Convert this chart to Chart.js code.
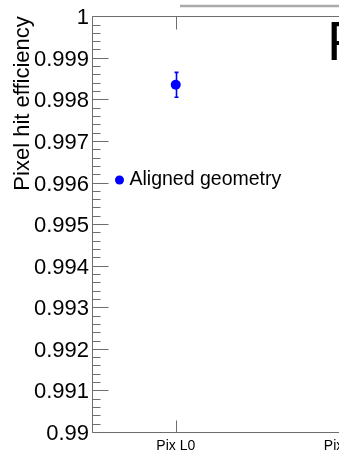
<!DOCTYPE html>
<html>
<head>
<meta charset="utf-8">
<script src="https://cdn.jsdelivr.net/npm/chart.js@4/dist/chart.umd.min.js"></script>
<style>
  html, body { margin: 0; padding: 0; overflow: hidden; background: #fff; }
  #wrap { width: 432px; height: 452px; position: relative; }
</style>
</head>
<body>
<div id="wrap"><canvas id="c"></canvas></div>
<script>
// Pixel hit efficiency per layer
const layers = ['Pix L0', 'Pix L1'];
const efficiency = [0.99835, null];
const efficiencyErr = [0.0003, null];
const seriesLabel = 'Aligned geometry';
const yMin = 0.99;
const yMax = 1.0;
const yMinorStep = 0.0002;   // 5 minor divisions per 0.001
const headerText = 'P';

const FONT = '"Liberation Sans", Arial, Helvetica, sans-serif';
const BLUE = '#0000ff';
const AXIS = '#6e6e6e';

function isMajor(v) {
  return Math.round((v - yMin) / yMinorStep) % 5 === 0;
}

// Frame and inward-pointing ticks (major + minor), plus error bars
const framePlugin = {
  id: 'frame',
  beforeDatasetsDraw(chart) {
    const { ctx, chartArea: a, scales: { x, y } } = chart;
    ctx.save();
    ctx.strokeStyle = AXIS;
    ctx.lineWidth = 1;
    ctx.beginPath();
    const L = Math.round(a.left) + 0.5;
    const B = Math.round(a.bottom) + 0.5;
    const T = Math.round(a.top) + 0.5;
    ctx.moveTo(L, T); ctx.lineTo(L, B); ctx.lineTo(a.right, B);
    ctx.moveTo(L, T); ctx.lineTo(chart.width, T);
    y.ticks.forEach(t => {
      const py = Math.round(y.getPixelForValue(t.value)) + 0.5;
      ctx.moveTo(L, py);
      ctx.lineTo(L + (isMajor(t.value) ? 16 : 8), py);
    });
    x.ticks.forEach((t, i) => {
      const px = Math.round(x.getPixelForTick(i)) + 0.5;
      ctx.moveTo(px, B); ctx.lineTo(px, B - 12);
      ctx.moveTo(px, T); ctx.lineTo(px, T + 13);
    });
    ctx.stroke();

    const ds = chart.data.datasets[0];
    ctx.strokeStyle = BLUE;
    ctx.lineWidth = 1.6;
    ctx.beginPath();
    ds.data.forEach((v, i) => {
      const e = efficiencyErr[i];
      if (v == null || e == null) return;
      const px = Math.round(x.getPixelForValue(i)) + 0.5;
      const hi = y.getPixelForValue(v + e);
      const lo = y.getPixelForValue(v - e);
      ctx.moveTo(px, hi); ctx.lineTo(px, lo);
      ctx.moveTo(px - 2, hi); ctx.lineTo(px + 2, hi);
      ctx.moveTo(px - 2, lo); ctx.lineTo(px + 2, lo);
    });
    ctx.stroke();
    ctx.restore();
  },
  afterDraw(chart) {
    const { ctx } = chart;
    ctx.save();
    // legend entry
    ctx.fillStyle = BLUE;
    ctx.beginPath();
    ctx.arc(119.5, 180, 4.5, 0, Math.PI * 2);
    ctx.fill();
    ctx.fillStyle = '#000';
    ctx.font = '19.5px ' + FONT;
    ctx.textBaseline = 'alphabetic';
    ctx.textAlign = 'left';
    ctx.fillText(chart.data.datasets[0].label, 129.5, 184.5);

    // header box edge and label
    ctx.strokeStyle = '#aaaaaa';
    ctx.lineWidth = 2.5;
    ctx.beginPath();
    ctx.moveTo(180, 6); ctx.lineTo(chart.width, 6);
    ctx.stroke();
    ctx.font = '56px ' + FONT;
    ctx.fillText(headerText, 327, 60);
    ctx.restore();
  }
};

new Chart(document.getElementById('c'), {
  type: 'line',
  data: {
    labels: layers,
    datasets: [{
      label: seriesLabel,
      data: efficiency,
      showLine: false,
      pointRadius: 5,
      pointHoverRadius: 5,
      pointBackgroundColor: BLUE,
      pointBorderColor: BLUE,
      pointBorderWidth: 0,
      borderColor: BLUE,
      backgroundColor: BLUE
    }]
  },
  options: {
    responsive: true,
    maintainAspectRatio: false,
    animation: false,
    layout: { padding: { top: 12, left: 0, right: 0, bottom: 0 } },
    plugins: {
      legend: { display: false },
      tooltip: { enabled: false }
    },
    scales: {
      x: {
        type: 'category',
        offset: true,
        grid: { display: false, drawTicks: false },
        border: { display: false },
        ticks: {
          color: '#000',
          font: { family: FONT, size: 14 },
          padding: 6,
          maxRotation: 0,
          autoSkip: false
        },
        afterFit(scale) { scale.height = 20; }
      },
      y: {
        min: yMin,
        max: yMax,
        grid: { display: false, drawTicks: false },
        border: { display: false },
        ticks: {
          stepSize: yMinorStep,
          autoSkip: false,
          maxTicksLimit: 200,
          color: '#000',
          padding: 3,
          labelOffset: 2,
          font: { family: FONT, size: 22 },
          callback(v) { return isMajor(v) ? String(+v.toFixed(3)) : ''; }
        },
        title: {
          display: true,
          text: 'Pixel hit efficiency',
          align: 'end',
          color: '#000',
          font: { family: FONT, size: 22 },
          padding: { top: 10, bottom: 0 }
        },
        afterFit(scale) { scale.width = 92; }
      }
    }
  },
  plugins: [framePlugin]
});
</script>
</body>
</html>
